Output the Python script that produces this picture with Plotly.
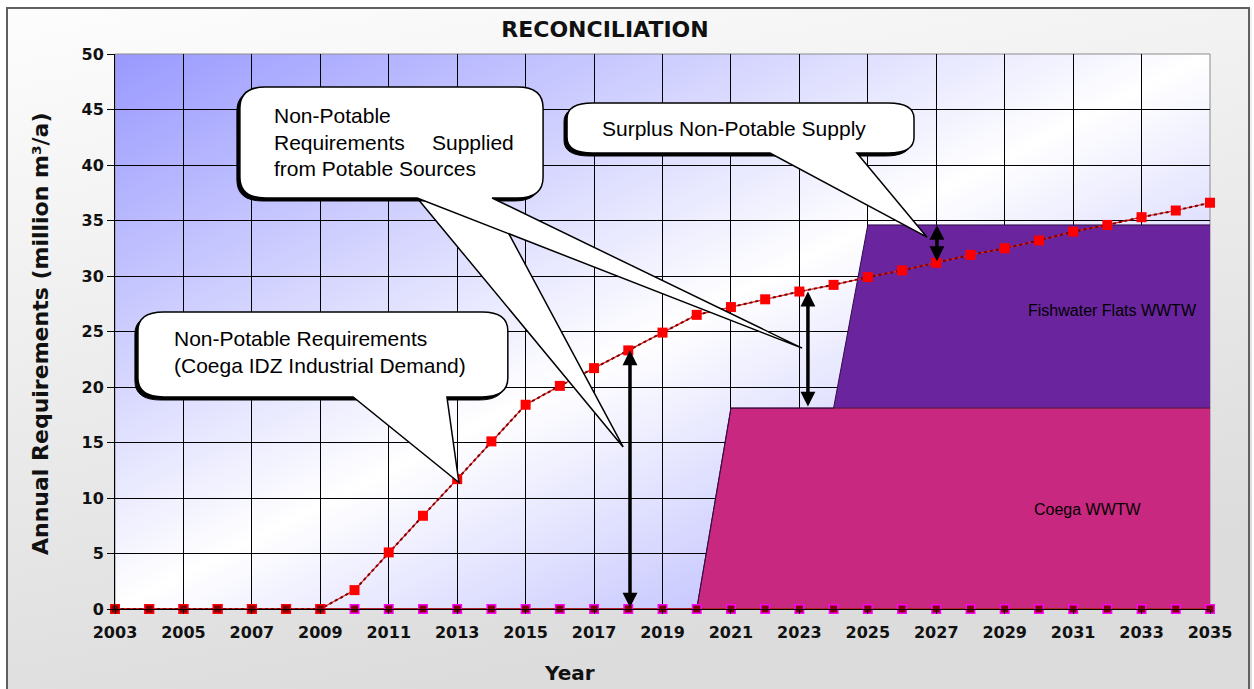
import base64
import plotly.graph_objects as go

# ---------------- data ----------------
years = list(range(2003, 2036))
demand = [0, 0, 0, 0, 0, 0, 0,
          1.7, 5.1, 8.4, 11.7, 15.1, 18.4, 20.1, 21.7, 23.3, 24.9, 26.5,
          27.2, 27.9, 28.6, 29.2, 29.9, 30.5, 31.2, 31.9, 32.5, 33.2, 34.0,
          34.6, 35.3, 35.9, 36.6]
coega = [0, 0, 0, 0, 0, 0, 0, 0, 0, 0, 0, 0, 0, 0, 0, 0, 0, 0,
         18.1, 18.1, 18.1, 18.1, 18.1, 18.1, 18.1, 18.1, 18.1, 18.1, 18.1,
         18.1, 18.1, 18.1, 18.1]
fishwater = [0, 0, 0, 0, 0, 0, 0, 0, 0, 0, 0, 0, 0, 0, 0, 0, 0, 0, 0, 0, 0, 0,
             16.5, 16.5, 16.5, 16.5, 16.5, 16.5, 16.5, 16.5, 16.5, 16.5, 16.5]
baseline = [0, 0, 0, 0, 0, 0, 0, 0, 0, 0, 0, 0, 0, 0, 0, 0, 0,
            0, 0, 0, 0, 0, 0, 0, 0, 0, 0, 0, 0, 0, 0, 0, 0]

title_text = "RECONCILIATION"
x_title = "Year"
y_title = "Annual Requirements (million m³/a)"

# ---------------- layout geometry (body margin removed in post_script) ----------------
W, H = 1254, 689
ML, MT = 115, 54
PR, PB = 1210, 609
MR, MB = W - PR, H - PB
PW, PH = W - ML - MR, H - MT - MB

def svg_uri(svg):
    return "data:image/svg+xml;base64," + base64.b64encode(svg.encode()).decode()

plot_bg = svg_uri(
    '<svg xmlns="http://www.w3.org/2000/svg" width="%d" height="%d" preserveAspectRatio="none">'
    '<defs><linearGradient id="g" x1="0" y1="0" x2="1" y2="1">'
    '<stop offset="0" stop-color="#9999ff"/><stop offset="0.5" stop-color="#ffffff"/>'
    '<stop offset="1" stop-color="#9999ff"/></linearGradient></defs>'
    '<rect width="100%%" height="100%%" fill="url(#g)"/></svg>' % (PW, PH))
paper_bg = svg_uri(
    '<svg xmlns="http://www.w3.org/2000/svg" width="%d" height="%d" preserveAspectRatio="none">'
    '<rect width="100%%" height="100%%" fill="#ffffff"/>'
    '<defs><linearGradient id="g" x1="0" y1="0" x2="0.35" y2="1">'
    '<stop offset="0" stop-color="#fdfdfd"/><stop offset="1" stop-color="#dcdcdc"/>'
    '</linearGradient></defs>'
    '<rect x="7" y="8" width="%d" height="%d" fill="url(#g)"/></svg>' % (W, H, W - 9, H - 8))

fig = go.Figure()

# stacked supply areas
fig.add_trace(go.Scatter(x=years, y=coega, stackgroup="s", mode="lines",
                         line=dict(color="#5a1238", width=1), fillcolor="#C8287F",
                         name="Coega WWTW", hoverinfo="x+y"))
fig.add_trace(go.Scatter(x=years, y=fishwater, stackgroup="s", mode="lines",
                         line=dict(color="#2e0c48", width=1), fillcolor="#6A249E",
                         name="Fishwater Flats WWTW", hoverinfo="x+y"))

# baseline series with magenta markers
fig.add_trace(go.Scatter(x=years, y=baseline, mode="lines+markers", cliponaxis=False,
                         line=dict(color="#B22222", width=2),
                         marker=dict(symbol="square", size=10, color="#FF00FF"),
                         showlegend=False))
# demand line
fig.add_trace(go.Scatter(x=years, y=demand, mode="lines", cliponaxis=False,
                         line=dict(color="#E02020", width=1.2), showlegend=False))
fig.add_trace(go.Scatter(x=years, y=demand, mode="lines+markers", cliponaxis=False,
                         line=dict(color="#7a0000", width=2, dash="dot"),
                         marker=dict(symbol="square", size=10, color="#FF0000"),
                         name="Non-Potable Requirements"))
# dark red baseline markers on top
fig.add_trace(go.Scatter(x=years, y=baseline, mode="markers", cliponaxis=False,
                         marker=dict(symbol="square", size=7, color="#7F0000"),
                         showlegend=False))

# ---------------- callouts (decorations) ----------------
def rr_path(x0, x1, y0, y1, rx, ry, pointer=None):
    p = "M %f,%f L %f,%f Q %f,%f %f,%f L %f,%f Q %f,%f %f,%f " % (
        x0 + rx, y1, x1 - rx, y1, x1, y1, x1, y1 - ry, x1, y0 + ry, x1, y0, x1 - rx, y0)
    if pointer:
        br, tx, ty, bl = pointer
        p += "L %f,%f L %f,%f L %f,%f " % (br, y0, tx, ty, bl, y0)
    p += "L %f,%f Q %f,%f %f,%f L %f,%f Q %f,%f %f,%f Z" % (
        x0 + rx, y0, x0, y0, x0, y0 + ry, x0, y1 - ry, x0, y1, x0 + rx, y1)
    return p

sx, sy = -3 / 34.22, -3 / 11.1
shapes = []
callouts = [
    # x0, x1, y0, y1, rx, ry, pointer(base right, tip x, tip y, base left)
    (2003.67, 2014.48, 19.10, 26.76, 0.75, 1.7, (2012.70, 2013.05, 11.4, 2009.96)),
    (2006.65, 2015.51, 37.03, 47.03, 0.75, 1.9, (2014.02, 2023.08, 23.5, 2011.83)),
    (2016.21, 2026.35, 41.08, 45.59, 0.75, 1.4, (2024.68, 2026.73, 33.5, 2022.14)),
]
# extra pointer of the second callout (drawn below the box)
shapes.append(dict(type="path", xref="x", yref="y",
                   path="M 2011.83,37.03 L 2017.85,14.6 L 2013.95,37.03 Z",
                   fillcolor="white", line=dict(color="black", width=1.5)))
for (x0, x1, y0, y1, rx, ry, ptr) in callouts:
    shapes.append(dict(type="path", xref="x", yref="y",
                       path=rr_path(x0 + sx, x1 + sx, y0 + sy, y1 + sy, rx, ry),
                       fillcolor="black", line=dict(color="black", width=1)))
    shapes.append(dict(type="path", xref="x", yref="y",
                       path=rr_path(x0, x1, y0, y1, rx, ry, ptr),
                       fillcolor="white", line=dict(color="black", width=1.5)))

# frame around plot area and whole chart
shapes.append(dict(type="rect", xref="paper", yref="paper", x0=0, x1=1, y0=0, y1=1,
                   line=dict(color="#8c8c8c", width=1), layer="below"))
shapes.append(dict(type="rect", xref="paper", yref="paper",
                   x0=(7 - ML) / PW, x1=(1249 - ML) / PW,
                   y0=(PB - 700) / PH, y1=(PB - 8) / PH,
                   line=dict(color="#606060", width=2), layer="below"))

ann = []
def txt(x, y, t, size=21, anchor="left"):
    ann.append(dict(x=x, y=y, xref="x", yref="y", text=t, showarrow=False,
                    xanchor=anchor, yanchor="middle",
                    font=dict(family="Liberation Sans, Arial", size=size, color="black")))

txt(2004.67, 24.41, "Non-Potable Requirements")
txt(2004.67, 21.98, "(Coega IDZ Industrial Demand)")
txt(2007.59, 44.50, "Non-Potable")
txt(2007.59, 42.07, "Requirements")
txt(2012.21, 42.07, "Supplied")
txt(2007.59, 39.73, "from Potable Sources")
txt(2017.17, 43.33, "Surplus Non-Potable Supply")
txt(2032.16, 26.85, "Fishwater Flats WWTW", size=16, anchor="center")
txt(2031.44, 8.92, "Coega WWTW", size=16, anchor="center")

# axis titles placed as annotations
axis_font = dict(family="DejaVu Sans", color="#111111", weight="bold")
ann.append(dict(text=x_title, xref="paper", yref="paper", showarrow=False,
                x=(569 - ML) / PW, y=(PB - 673) / PH,
                xanchor="center", yanchor="middle", font=dict(size=20, **axis_font)))
ann.append(dict(text=y_title, xref="paper", yref="paper", showarrow=False, textangle=-90,
                x=(40 - ML) / PW, y=(PB - 334) / PH,
                xanchor="center", yanchor="middle", font=dict(size=22, **axis_font)))

# double arrows (values taken from the series)
def darrow(x, ya, yb):
    ann.append(dict(x=x, y=yb, ax=x, ay=ya, xref="x", yref="y", axref="x", ayref="y",
                    text="", showarrow=True, arrowhead=2, arrowsize=0.85, arrowwidth=3.5,
                    arrowside="end+start", startarrowhead=2, startarrowsize=0.85,
                    arrowcolor="black", standoff=0, startstandoff=0))

i18, i23, i27 = years.index(2018), years.index(2023), years.index(2027)
darrow(2018.05, baseline[i18], demand[i18])
darrow(2023.25, coega[i23], demand[i23])
darrow(2027.02, demand[i27], coega[i27] + fishwater[i27])

bold_tick = dict(family="DejaVu Sans", size=16, color="#111111", weight="bold")

fig.update_layout(
    width=W, height=H,
    margin=dict(l=ML, r=MR, t=MT, b=MB, autoexpand=False),
    paper_bgcolor="#ffffff", plot_bgcolor="rgba(0,0,0,0)",
    showlegend=False,
    title=dict(text=title_text, x=605 / W, xanchor="center",
               y=1 - 29 / H, yanchor="middle",
               yref="container", xref="container",
               font=dict(family="DejaVu Sans", size=22, color="#111111", weight="bold")),
    xaxis=dict(range=[2003, 2035], tickmode="linear", tick0=2003, dtick=2,
               showgrid=True, gridcolor="black", gridwidth=1,
               ticks="outside", ticklen=4, tickcolor="black", ticklabelstandoff=5,
               showline=True, linecolor="black", zeroline=False,
               tickfont=bold_tick),
    yaxis=dict(range=[0, 50], tickmode="linear", tick0=0, dtick=5,
               showgrid=True, gridcolor="black", gridwidth=1,
               ticks="outside", ticklen=7, tickcolor="black",
               showline=True, linecolor="black", zeroline=False,
               tickfont=bold_tick),
    images=[
        dict(source=paper_bg, xref="paper", yref="paper", x=-ML / PW, y=1 + MT / PH,
             sizex=W / PW, sizey=H / PH, sizing="stretch", layer="below", xanchor="left", yanchor="top"),
        dict(source=plot_bg, xref="paper", yref="paper", x=0, y=1, sizex=1, sizey=1,
             sizing="stretch", layer="below", xanchor="left", yanchor="top"),
    ],
    shapes=shapes,
    annotations=ann,
)

fig.write_html("out.html", config={"displayModeBar": False},
               post_script="document.body.style.margin='0';document.body.style.overflow='hidden';")
